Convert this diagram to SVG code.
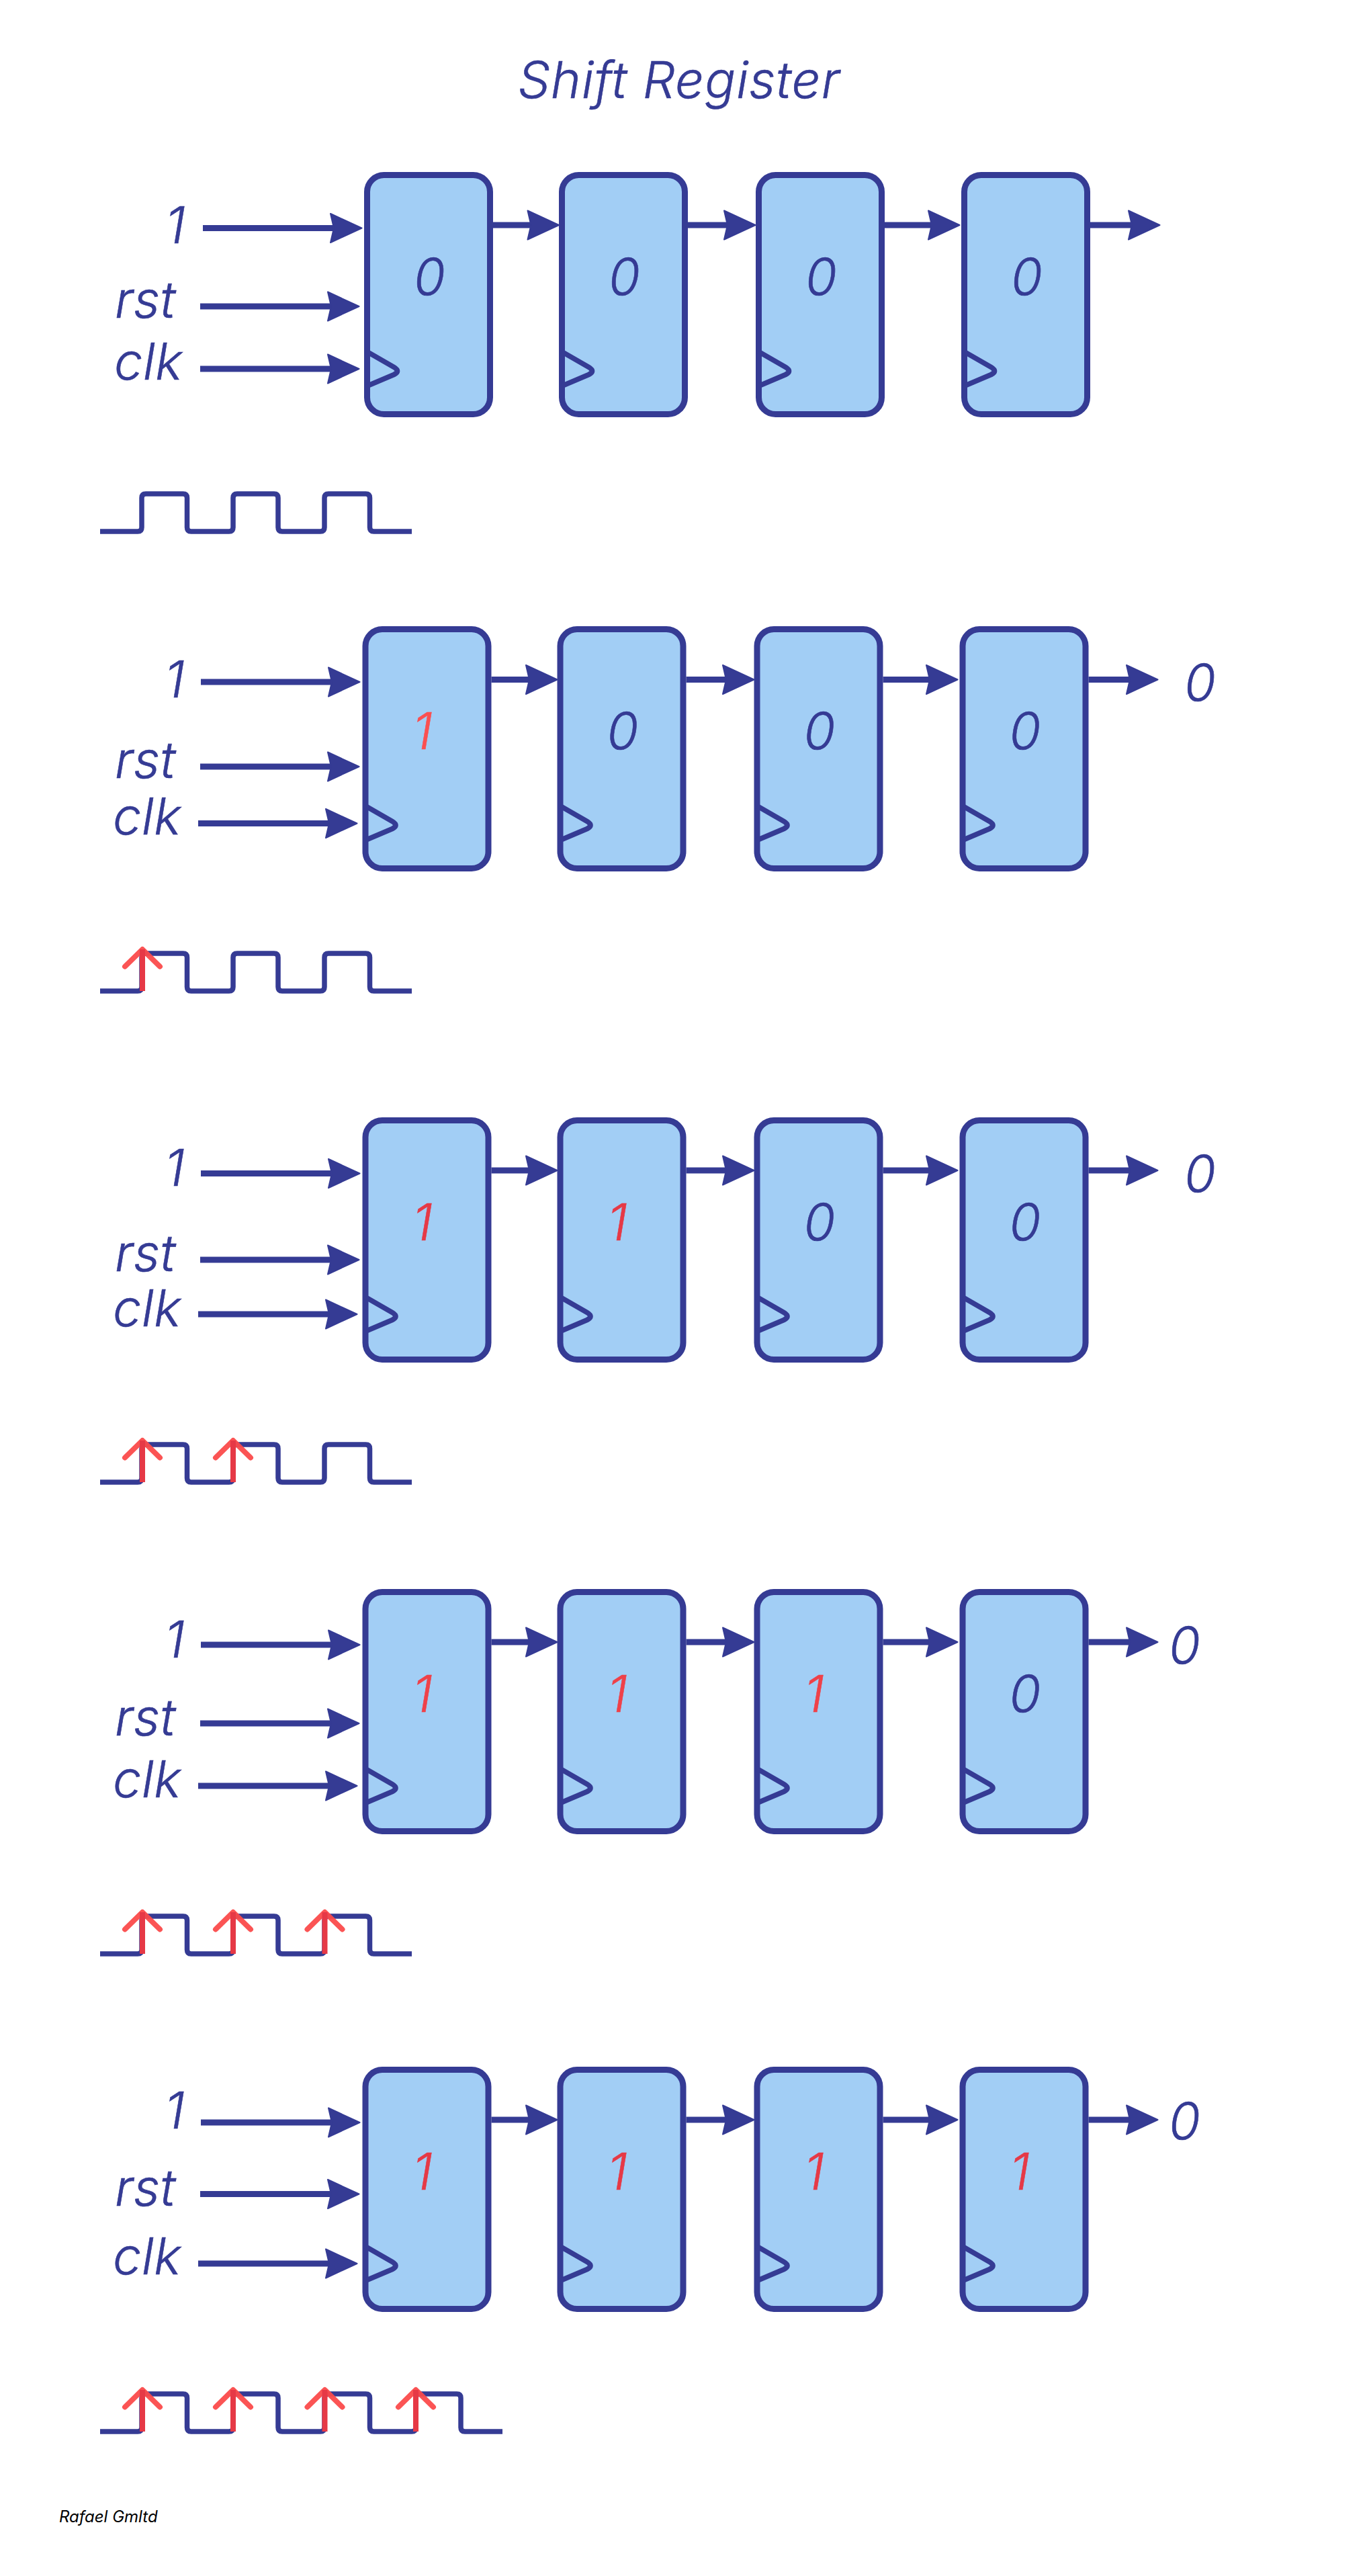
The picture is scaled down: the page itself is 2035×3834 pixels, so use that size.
<svg xmlns="http://www.w3.org/2000/svg" width="2035" height="3834" viewBox="0 0 2035 3834">
<style>
text{font-family:Inter,"Liberation Sans",sans-serif;font-style:italic;font-weight:300;font-size:76px;letter-spacing:.5px;fill:#353b94;stroke:#353b94;stroke-width:.6}
.t{letter-spacing:1.1px}
.d{text-anchor:middle;letter-spacing:0}
.e2{fill:#fb4f50;stroke:#fb4f50}.e3{fill:#e63946;stroke:#e63946}.e4{fill:#ef4149;stroke:#ef4149}
.f{font-size:24px;font-weight:400;fill:#000;stroke:none;letter-spacing:0}
.box{fill:#a2cef5;stroke:#353b94;stroke-width:9}
.tri{fill:none;stroke:#353b94;stroke-width:7.7}
.ar{fill:none;stroke:#353b94;stroke-width:9;marker-end:url(#h)}
.w{fill:none;stroke:#353b94;stroke-width:7.5}
.up{fill:none;stroke:#e63946;stroke-width:8}
.chev{fill:none;stroke:#fb4b4b;stroke-width:8;stroke-linecap:round;stroke-linejoin:round;opacity:.95}
</style>
<defs>
<marker id="h" markerUnits="userSpaceOnUse" viewBox="-2 -24 52 48" markerWidth="52" markerHeight="48" refX="8" refY="0" orient="auto"><path d="M0 -21.500 L46.500 0 L0 21.500 L5 0 Z" fill="#353b94" stroke="#353b94" stroke-width="2" stroke-linejoin="round"/></marker>
<g id="ff"><rect class="box" x="0" y="0" width="183" height="356" rx="25"/><path class="tri" d="M0 263 L40 286 Q50 292 40 297 L0 314"/></g>
<g id="ck"><path class="chev" d="M-26 -36.500 L0 -62 L26 -36.500"/><path class="up" d="M0 0 V-62"/></g>
</defs>
<rect width="2035" height="3834" fill="#fff"/>
<text id="title" class="t" x="771" y="146">Shift Register</text>

<g id="connectors">
<line class="ar" x1="302" y1="339.500" x2="500" y2="339.500"/><line class="ar" x1="298" y1="456" x2="496" y2="456"/><line class="ar" x1="298" y1="549" x2="496" y2="549"/>
<line class="ar" x1="734" y1="335" x2="793.500" y2="335"/><line class="ar" x1="1024" y1="335" x2="1086" y2="335"/><line class="ar" x1="1317" y1="335" x2="1390" y2="335"/><line class="ar" x1="1623" y1="335" x2="1688" y2="335"/>

<line class="ar" x1="299" y1="1015" x2="497" y2="1015"/><line class="ar" x1="298" y1="1141" x2="496" y2="1141"/><line class="ar" x1="295" y1="1225.500" x2="493" y2="1225.500"/>
<line class="ar" x1="731.500" y1="1011.500" x2="791" y2="1011.500"/><line class="ar" x1="1021.500" y1="1011.500" x2="1084" y2="1011.500"/><line class="ar" x1="1314.500" y1="1011.500" x2="1387" y2="1011.500"/><line class="ar" x1="1620.500" y1="1011.500" x2="1685" y2="1011.500"/>

<line class="ar" x1="299" y1="1746.500" x2="497" y2="1746.500"/><line class="ar" x1="298" y1="1875" x2="496" y2="1875"/><line class="ar" x1="295" y1="1956" x2="493" y2="1956"/>
<line class="ar" x1="731.500" y1="1742" x2="791" y2="1742"/><line class="ar" x1="1021.500" y1="1742" x2="1084" y2="1742"/><line class="ar" x1="1314.500" y1="1742" x2="1387" y2="1742"/><line class="ar" x1="1620.500" y1="1742" x2="1685" y2="1742"/>

<line class="ar" x1="299" y1="2448" x2="497" y2="2448"/><line class="ar" x1="298" y1="2565" x2="496" y2="2565"/><line class="ar" x1="295" y1="2658" x2="493" y2="2658"/>
<line class="ar" x1="731.500" y1="2444" x2="791" y2="2444"/><line class="ar" x1="1021.500" y1="2444" x2="1084" y2="2444"/><line class="ar" x1="1314.500" y1="2444" x2="1387" y2="2444"/><line class="ar" x1="1620.500" y1="2444" x2="1685" y2="2444"/>

<line class="ar" x1="299" y1="3159" x2="497" y2="3159"/><line class="ar" x1="298" y1="3265.500" x2="496" y2="3265.500"/><line class="ar" x1="295" y1="3369" x2="493" y2="3369"/>
<line class="ar" x1="731.500" y1="3155" x2="791" y2="3155"/><line class="ar" x1="1021.500" y1="3155" x2="1084" y2="3155"/><line class="ar" x1="1314.500" y1="3155" x2="1387" y2="3155"/><line class="ar" x1="1620.500" y1="3155" x2="1685" y2="3155"/>
</g>

<g id="row1-labels"><text x="246" y="362">1</text><text x="171" y="473">rst</text><text x="170" y="565">clk</text></g>
<g id="row1-ff1" transform="translate(546.5 260.5)"><use href="#ff"/><text class="d" x="93" y="178.500">0</text></g>
<g id="row1-ff2" transform="translate(836.5 260.5)"><use href="#ff"/><text class="d" x="93" y="178.500">0</text></g>
<g id="row1-ff3" transform="translate(1129.5 260.5)"><use href="#ff"/><text class="d" x="93" y="178.500">0</text></g>
<g id="row1-ff4" transform="translate(1435.5 260.5)"><use href="#ff"/><text class="d" x="93" y="178.500">0</text></g>
<path id="row1-clock" class="w" d="M149 791H205Q211 791 211 785V741Q211 735 217 735H272.500Q278.500 735 278.500 741V785Q278.500 791 284.500 791H341Q347 791 347 785V741Q347 735 353 735H408Q414 735 414 741V785Q414 791 420 791H477Q483 791 483 785V741Q483 735 489 735H544.500Q550.500 735 550.500 741V785Q550.500 791 556.500 791H613"/>

<g id="row2-labels"><text x="245" y="1038">1</text><text x="171" y="1158">rst</text><text x="168" y="1242">clk</text><text x="1763" y="1042.500">0</text></g>
<g id="row2-ff1" transform="translate(544 936.5)"><use href="#ff"/><text class="d e2" x="85" y="178.500">1</text></g>
<g id="row2-ff2" transform="translate(834 936.5)"><use href="#ff"/><text class="d" x="93" y="178.500">0</text></g>
<g id="row2-ff3" transform="translate(1127 936.5)"><use href="#ff"/><text class="d" x="93" y="178.500">0</text></g>
<g id="row2-ff4" transform="translate(1433 936.5)"><use href="#ff"/><text class="d" x="93" y="178.500">0</text></g>
<path id="row2-clock" class="w" d="M149 1475H205Q211 1475 211 1469V1425Q211 1419 217 1419H272.500Q278.500 1419 278.500 1425V1469Q278.500 1475 284.500 1475H341Q347 1475 347 1469V1425Q347 1419 353 1419H408Q414 1419 414 1425V1469Q414 1475 420 1475H477Q483 1475 483 1469V1425Q483 1419 489 1419H544.500Q550.500 1419 550.500 1425V1469Q550.500 1475 556.500 1475H613"/>
<use href="#ck" x="212" y="1475"/>

<g id="row3-labels"><text x="245" y="1765">1</text><text x="171" y="1891.500">rst</text><text x="168" y="1973.500">clk</text><text x="1763" y="1774">0</text></g>
<g id="row3-ff1" transform="translate(544 1667.5)"><use href="#ff"/><text class="d e3" x="85" y="178.500">1</text></g>
<g id="row3-ff2" transform="translate(834 1667.5)"><use href="#ff"/><text class="d e3" x="85" y="178.500">1</text></g>
<g id="row3-ff3" transform="translate(1127 1667.5)"><use href="#ff"/><text class="d" x="93" y="178.500">0</text></g>
<g id="row3-ff4" transform="translate(1433 1667.5)"><use href="#ff"/><text class="d" x="93" y="178.500">0</text></g>
<path id="row3-clock" class="w" d="M149 2206H205Q211 2206 211 2200V2156Q211 2150 217 2150H272.500Q278.500 2150 278.500 2156V2200Q278.500 2206 284.500 2206H341Q347 2206 347 2200V2156Q347 2150 353 2150H408Q414 2150 414 2156V2200Q414 2206 420 2206H477Q483 2206 483 2200V2156Q483 2150 489 2150H544.500Q550.500 2150 550.500 2156V2200Q550.500 2206 556.500 2206H613"/>
<use href="#ck" x="212" y="2206"/><use href="#ck" x="347" y="2206"/>

<g id="row4-labels"><text x="245" y="2467">1</text><text x="171" y="2582.500">rst</text><text x="168" y="2675">clk</text><text x="1740" y="2476">0</text></g>
<g id="row4-ff1" transform="translate(544 2369.5)"><use href="#ff"/><text class="d e4" x="85" y="178.500">1</text></g>
<g id="row4-ff2" transform="translate(834 2369.5)"><use href="#ff"/><text class="d e4" x="85" y="178.500">1</text></g>
<g id="row4-ff3" transform="translate(1127 2369.5)"><use href="#ff"/><text class="d e4" x="85" y="178.500">1</text></g>
<g id="row4-ff4" transform="translate(1433 2369.5)"><use href="#ff"/><text class="d" x="93" y="178.500">0</text></g>
<path id="row4-clock" class="w" d="M149 2908H205Q211 2908 211 2902V2858Q211 2852 217 2852H272.500Q278.500 2852 278.500 2858V2902Q278.500 2908 284.500 2908H341Q347 2908 347 2902V2858Q347 2852 353 2852H408Q414 2852 414 2858V2902Q414 2908 420 2908H477Q483 2908 483 2902V2858Q483 2852 489 2852H544.500Q550.500 2852 550.500 2858V2902Q550.500 2908 556.500 2908H613"/>
<use href="#ck" x="212" y="2908"/><use href="#ck" x="347" y="2908"/><use href="#ck" x="483.500" y="2908"/>

<g id="row5-labels"><text x="245" y="3168">1</text><text x="171" y="3282.500">rst</text><text x="168" y="3385">clk</text><text x="1740" y="3184">0</text></g>
<g id="row5-ff1" transform="translate(544 3080.5)"><use href="#ff"/><text class="d e3" x="85" y="178.500">1</text></g>
<g id="row5-ff2" transform="translate(834 3080.5)"><use href="#ff"/><text class="d e3" x="85" y="178.500">1</text></g>
<g id="row5-ff3" transform="translate(1127 3080.5)"><use href="#ff"/><text class="d e3" x="85" y="178.500">1</text></g>
<g id="row5-ff4" transform="translate(1433 3080.5)"><use href="#ff"/><text class="d e3" x="85" y="178.500">1</text></g>
<path id="row5-clock" class="w" d="M149 3619H205Q211 3619 211 3613V3569Q211 3563 217 3563H272.500Q278.500 3563 278.500 3569V3613Q278.500 3619 284.500 3619H341Q347 3619 347 3613V3569Q347 3563 353 3563H408Q414 3563 414 3569V3613Q414 3619 420 3619H477Q483 3619 483 3613V3569Q483 3563 489 3563H544.500Q550.500 3563 550.500 3569V3613Q550.500 3619 556.500 3619H613Q619 3619 619 3613V3569Q619 3563 625 3563H680Q686 3563 686 3569V3613Q686 3619 692 3619H748"/>
<use href="#ck" x="212" y="3619"/><use href="#ck" x="347" y="3619"/><use href="#ck" x="483.500" y="3619"/><use href="#ck" x="619" y="3619"/>

<text class="f" x="88" y="3753.500">Rafael Gmltd</text>
</svg>
